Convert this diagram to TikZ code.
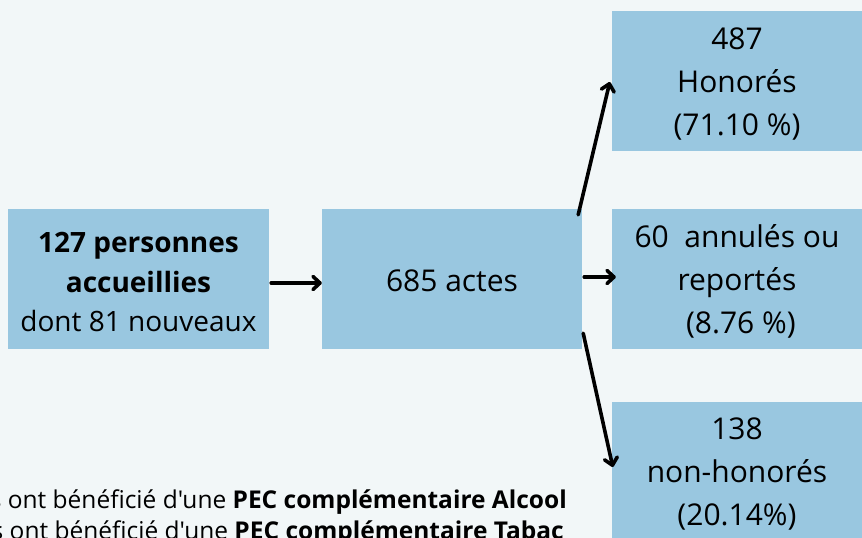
\documentclass[tikz,border=0pt]{standalone}
\usepackage{fontspec}
\setmainfont{Open Sans}[Ligatures=TeXOff]
\usetikzlibrary{arrows.meta,calc}
\definecolor{bgc}{RGB}{242,247,248}
\definecolor{boxc}{RGB}{153,199,224}
\tikzset{
  box/.style={fill=boxc, draw=none, minimum height=140pt, inner sep=0pt},
  txt/.style={align=center, inner sep=0pt, font=\fontsize{30}{43}\selectfont},
  arr/.style={line width=3.6pt, line cap=round, -{Straight Barb[length=7pt,width=13pt,line cap=round,line join=round]}},
}
\begin{document}
\begin{tikzpicture}[x=1pt,y=-1pt]
\useasboundingbox (0,0) rectangle (862,538);
\clip (0,0) rectangle (862,538);
\fill[bgc] (0,0) rectangle (862,538);
\node[box, minimum width=261pt] (A) at (138.5,279) {};
\node[box, minimum width=260pt] (B) at (452,279) {};
\node[box, minimum width=250pt] (C) at (737,81) {};
\node[box, minimum width=250pt] (D) at (737,279) {};
\node[box, minimum width=250pt] (E) at (737,472) {};
\node[txt, font=\fontsize{28}{39.5}\selectfont] (At) at ($(A)+(0,3)$) {\textbf{127 personnes}\\\textbf{accueillies}\\dont 81 nouveaux};
\node[txt] (Bt) at ($(B)+(0,1.5)$) {685 actes};
\node[txt] (Ct) at ($(C)+(0,3)$) {487\\Honorés\\(71.10 \%)};
\node[txt] (Dt) at ($(D)+(0,2)$) {60\ \ annulés ou\\reportés\\\ (8.76 \%)};
\node[txt] (Et) at ($(E)+(0,2.5)$) {138\\non-honorés\\(20.14\%)};
\draw[arr] ($(A.east)+(2,4)$) -- ($(B.west)+(0,4)$);
\draw[arr] ($(B.north east)+(-4,6)$) -- ($(C.west)+(-2,1)$);
\draw[arr] ($(B.east)+(2,-2)$) -- ($(D.west)+(4,-2)$);
\draw[arr] ($(B.south east)+(1,-16)$) -- ($(E.west)+(1,-5)$);
\node[anchor=base east, inner sep=0pt, font=\fontsize{24.5}{30}\selectfont] (L1) at (567,508) {s ont bénéficié d'une \textbf{PEC complémentaire Alcool}};
\node[anchor=base east, inner sep=0pt, font=\fontsize{24.5}{30}\selectfont] (L2) at (564,539) {s ont bénéficié d'une \textbf{PEC complémentaire Tabac}};
\end{tikzpicture}
\end{document}
